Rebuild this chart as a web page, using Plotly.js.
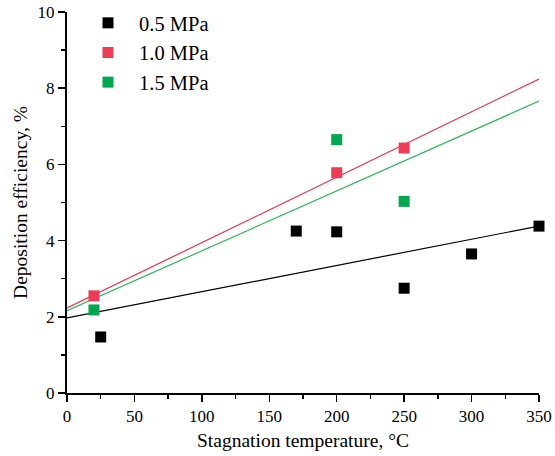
<!DOCTYPE html>
<html>
<head>
<meta charset="utf-8">
<script src="https://cdn.plot.ly/plotly-3.0.1.min.js"></script>
<style>html,body{margin:0;padding:0;background:#fff;}#chart{width:555px;height:456px;}</style>
</head>
<body>
<div id="chart"></div>
<script>
// Measured points
const seriesNames = ["0.5 MPa", "1.0 MPa", "1.5 MPa"];
const x05 = [25, 170, 200, 250, 300, 350];
const y05 = [1.47, 4.25, 4.23, 2.75, 3.65, 4.38];
const x10 = [20, 200, 250];
const y10 = [2.55, 5.78, 6.43];
const x15 = [20, 200, 250];
const y15 = [2.18, 6.65, 5.03];
// Linear fit lines (endpoints)
const fitX = [0, 350];
const fit05 = [1.97, 4.38];
const fit10 = [2.23, 8.24];
const fit15 = [2.16, 7.66];
const xTicks = [0, 50, 100, 150, 200, 250, 300, 350];
const yTicks = [0, 2, 4, 6, 8, 10];

const colors = ["#000000", "#EF3B56", "#00A84F"];
const lineColors = ["#000000", "#F0304E", "#2DB85A"];
const FONT = '"Liberation Serif", "Times New Roman", serif';

const traces = [
  {x: fitX, y: fit05, mode: 'lines', line: {color: lineColors[0], width: 1.2}, showlegend: false, hoverinfo: 'skip', cliponaxis: false},
  {x: fitX, y: fit10, mode: 'lines', line: {color: lineColors[1], width: 1.2}, showlegend: false, hoverinfo: 'skip', cliponaxis: false},
  {x: fitX, y: fit15, mode: 'lines', line: {color: lineColors[2], width: 1.2}, showlegend: false, hoverinfo: 'skip', cliponaxis: false},
  {x: x05, y: y05, name: seriesNames[0], mode: 'markers', cliponaxis: false, marker: {symbol: 'square', size: 11, color: colors[0]}},
  {x: x10, y: y10, name: seriesNames[1], mode: 'markers', cliponaxis: false, marker: {symbol: 'square', size: 11, color: colors[1]}},
  {x: x15, y: y15, name: seriesNames[2], mode: 'markers', cliponaxis: false, marker: {symbol: 'square', size: 11, color: colors[2]}}
];

const axisCommon = {
  showgrid: false, zeroline: false, showline: true, linecolor: '#000', linewidth: 2,
  ticks: 'outside', ticklen: 7, tickwidth: 1.5, tickcolor: '#000',
  tickfont: {family: FONT, size: 17, color: '#000'}
};

const layout = {
  width: 555, height: 456,
  margin: {l: 67, r: 16, t: 3, b: 63},
  paper_bgcolor: '#fff', plot_bgcolor: '#fff',
  font: {family: FONT, color: '#000'},
  xaxis: Object.assign({}, axisCommon, {
    range: [0, 350], tickvals: xTicks, ticktext: xTicks.map(String),
    minor: {dtick: 25, tick0: 0, ticks: 'outside', ticklen: 4, tickwidth: 1.5, tickcolor: '#000'},
    title: {text: 'Stagnation temperature, °C', font: {family: FONT, size: 19.5, color: '#000'}, standoff: 8}
  }),
  yaxis: Object.assign({}, axisCommon, {
    range: [0, 10], tickvals: yTicks, ticktext: yTicks.map(String),
    domain: [0, 1 - 9 / 390],
    minor: {dtick: 1, tick0: 0, ticks: 'outside', ticklen: 4, tickwidth: 1.5, tickcolor: '#000'},
    title: {text: 'Deposition efficiency, %', font: {family: FONT, size: 19.5, color: '#000'}, standoff: 5}
  }),
  legend: {
    x: 10 / 472, y: 1, xanchor: 'left', yanchor: 'top',
    bgcolor: 'rgba(0,0,0,0)', borderwidth: 0, itemwidth: 52,
    font: {family: FONT, size: 20.5, color: '#000'}
  },
  showlegend: true
};

Plotly.newPlot('chart', traces, layout, {displayModeBar: false, staticPlot: true});
</script>
</body>
</html>
